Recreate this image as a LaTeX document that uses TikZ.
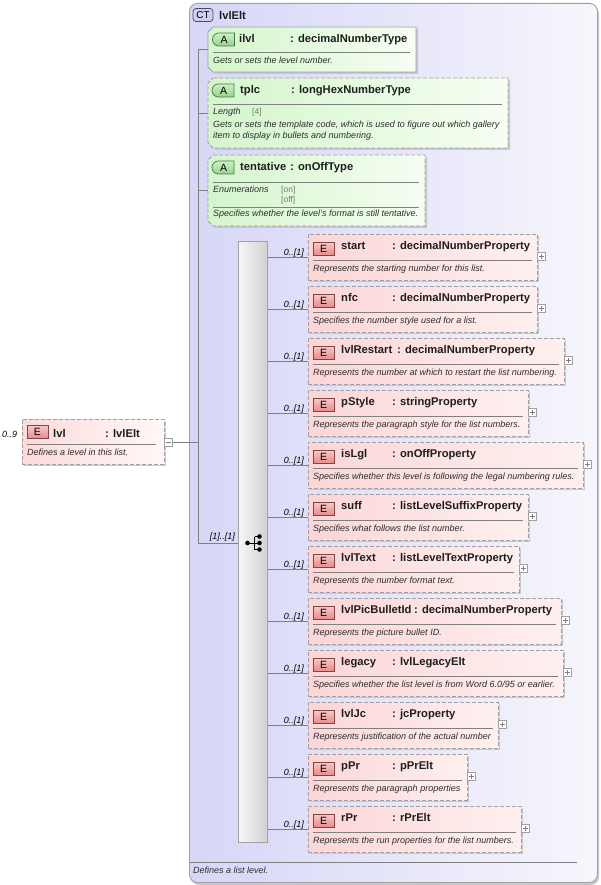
\documentclass[tikz,border=0pt]{standalone}
\usepackage{fontspec}
\setmainfont{Liberation Sans}
\usetikzlibrary{shapes.misc}
\definecolor{bordc}{RGB}{160,160,160}
\definecolor{connc}{RGB}{128,128,128}
\definecolor{shadowc}{RGB}{200,200,205}
\definecolor{ctL}{RGB}{214,214,248}
\definecolor{ctR}{RGB}{246,246,252}
\definecolor{ctbadgec}{RGB}{205,205,245}
\definecolor{elL}{RGB}{252,214,214}
\definecolor{elR}{RGB}{254,240,240}
\definecolor{lvL}{RGB}{252,218,218}
\definecolor{lvR}{RGB}{255,248,248}
\definecolor{atL}{RGB}{212,246,204}
\definecolor{atR}{RGB}{246,254,242}
\definecolor{ebT}{RGB}{250,200,200}
\definecolor{ebB}{RGB}{232,140,140}
\definecolor{ebD}{RGB}{130,70,70}
\definecolor{abT}{RGB}{205,242,195}
\definecolor{abB}{RGB}{150,210,140}
\definecolor{abD}{RGB}{80,110,80}
\definecolor{txt}{RGB}{30,30,30}
\definecolor{dtxt}{RGB}{45,45,45}
\definecolor{valc}{RGB}{120,120,120}
\definecolor{seqL}{RGB}{246,246,246}
\definecolor{seqR}{RGB}{210,210,210}

\tikzset{
 hdr/.style={anchor=base west, inner sep=0pt, font=\fontsize{11.2}{13}\selectfont\bfseries, text=txt},
 dsc/.style={anchor=base west, inner sep=0pt, font=\fontsize{9}{11}\selectfont\itshape, text=dtxt},
 mult/.style={anchor=base east, inner sep=0pt, font=\fontsize{9}{11}\selectfont\itshape, text=black},
 valtxt/.style={anchor=base west, inner sep=0pt, font=\fontsize{8.5}{10}\selectfont, text=valc},
 conn/.style={draw=connc, line width=0.8pt},
 sepline/.style={draw=connc, line width=0.7pt},
 dashbox/.style={draw=bordc, line width=0.9pt, dash pattern=on 4pt off 2pt},
 solidbox/.style={draw=bordc, line width=0.9pt},
 elembox/.style={rectangle, dashbox, left color=elL, right color=elR, minimum height=46pt, inner sep=0pt},
 lvlbox/.style={rectangle, dashbox, left color=lvL, right color=lvR, inner sep=0pt},
 ctbox/.style={rectangle, rounded corners=8pt, draw=bordc, line width=0.9pt, left color=ctL, right color=ctR, inner sep=0pt},
 ctbadge/.style={rectangle, rounded corners=3pt, draw=black!70, line width=0.7pt, fill=ctbadgec, minimum width=20pt, minimum height=13pt, inner sep=0pt, font=\fontsize{10}{11}\selectfont},
 seqbar/.style={rectangle, draw=bordc, line width=0.8pt, left color=seqL, right color=seqR, inner sep=0pt},
 ebadge/.style={rectangle, draw=ebD, line width=0.7pt, top color=ebT, bottom color=ebB, minimum width=21pt, minimum height=13pt, inner sep=0pt, font=\fontsize{10.5}{11}\selectfont, text=black},
 abadge/.style={rounded rectangle, rounded rectangle right arc=none, draw=abD, line width=0.7pt, top color=abT, bottom color=abB, minimum width=22pt, minimum height=13pt, inner sep=0pt, font=\fontsize{10.5}{11}\selectfont, text=black},
 plusbox/.style={rectangle, draw=bordc, fill=white, line width=0.6pt, minimum size=8pt, inner sep=0pt},
 plussign/.style={draw=gray, line width=0.6pt},
 seqdot/.style={fill=black, draw=none},
}

% element: #1 id, #2 top, #3 right, #4 name, #5 colon x, #6 type, #7 desc
\newcommand{\xelem}[7]{%
  \pgfmathsetmacro{\ew}{#3-308}%
  \fill[shadowc] (310,#2+2) rectangle (#3+2,#2+48);
  \node[elembox, minimum width=\ew pt, anchor=north west] (#1) at (308,#2) {};
  \node[ebadge] (#1b) at (323.5,#2+14.5) {E};
  \node[hdr] (#1n) at (341,#2+15) {#4};
  \node[hdr] (#1t) at (#5,#2+15) {: #6};
  \draw[sepline] (313,#2+26) -- (#3-5,#2+26);
  \node[dsc] (#1d) at (313,#2+37) {#7};
  \node[plusbox] (#1p) at (#3+4.5,#2+22.5) {};
  \draw[plussign] (#1p.center) +(-2.5,0) -- +(2.5,0) +(0,-2.5) -- +(0,2.5);
  \draw[conn] (seq.east |- #1.west) -- (#1.west);
  \node[mult] (#1m) at (304,#2+21) {0..[1]};
}

% attribute box: #1 x1, #2 y1, #3 x2, #4 y2, #5 border style
\newcommand{\xattr}[5]{%
  \fill[shadowc] (#1+7,#2+2) -- (#3+2,#2+2) -- (#3+2,#4+2) -- (#1+7,#4+2) -- (#1+2,#4-3) -- (#1+2,#2+7) -- cycle;
  \path[#5, left color=atL, right color=atR] (#1+5,#2) -- (#3,#2) -- (#3,#4) -- (#1+5,#4) -- (#1,#4-5) -- (#1,#2+5) -- cycle;
}

\begin{document}
\begin{tikzpicture}[x=1pt,y=-1pt]
\useasboundingbox (0,0) rectangle (600,885);
\fill[white] (0,0) rectangle (600,885);

% complex type container
\fill[shadowc, rounded corners=8pt] (191,6) rectangle (599,885);
\node[ctbox, minimum width=408pt, minimum height=879pt, anchor=north west] (ct) at (189,3) {};
\node[ctbadge] (ctb) at (203,15) {CT};
\node[hdr] (ctn) at (219,19.5) {lvlElt};
\draw[sepline] (190,862) -- (577,862);
\node[dsc] (ctd) at (193,873) {Defines a list level.};

% connector trunk
\coordinate (vtop) at (198,49.5);
\coordinate (vbot) at (198,543);
\coordinate (jx) at (198,442);
\coordinate (a1) at (208,49.5);
\coordinate (a2) at (208,113);
\coordinate (a3) at (208,190.5);
\draw[conn] (vtop) -- (vbot);
\draw[conn] (a1 -| vtop) -- (a1);
\draw[conn] (a2 -| vtop) -- (a2);
\draw[conn] (a3 -| vtop) -- (a3);

% attribute ilvl
\xattr{208}{27}{416}{72}{solidbox}
\node[abadge] (a1b) at (224,39.5) {A};
\node[hdr] (a1n) at (239,43) {ilvl};
\node[hdr] (a1t) at (290,43) {: decimalNumberType};
\draw[sepline] (213,52) -- (410,52);
\node[dsc] (a1d) at (213,64) {Gets or sets the level number.};

% attribute tplc
\xattr{208}{78}{508}{148}{dashbox}
\node[abadge] (a2b) at (223.5,90.5) {A};
\node[hdr] (a2n) at (240,94) {tplc};
\node[hdr] (a2t) at (291,94) {: longHexNumberType};
\draw[sepline] (213,104) -- (502,104);
\node[dsc] (a2l) at (213,114.5) {Length};
\node[valtxt] (a2v) at (252,114.5) {[4]};
\node[dsc] (a2d1) at (213,128) {Gets or sets the template code, which is used to figure out which gallery};
\node[dsc] (a2d2) at (213,139) {item to display in bullets and numbering.};

% attribute tentative
\xattr{208}{155}{425}{226}{dashbox}
\node[abadge] (a3b) at (223.5,167.5) {A};
\node[hdr] (a3n) at (240,171) {tentative};
\node[hdr] (a3t) at (290,171) {: onOffType};
\draw[sepline] (213,182) -- (419,182);
\node[dsc] (a3l) at (213,193) {Enumerations};
\node[valtxt] (a3v1) at (281,193) {[on]};
\node[valtxt] (a3v2) at (281,202.5) {[off]};
\draw[sepline] (213,207) -- (419,207);
\node[dsc] (a3d) at (213,217) {Specifies whether the level's format is still tentative.};

% sequence compositor
\node[seqbar, minimum width=29pt, minimum height=601pt, anchor=north west] (seq) at (238,241) {};
\draw[conn] (vbot) -- (vbot -| seq.west);
\node[mult] (seqm) at (235,539.5) {[1]..[1]};
\draw[line width=0.9pt] (247.5,543) -- (254.5,543) (254.5,536.5) -- (254.5,549.5)
  (254.5,536.5) -- (259.5,536.5) (254.5,543) -- (259.5,543) (254.5,549.5) -- (259.5,549.5);
\fill[seqdot] (247.5,543) circle (2.3pt);
\fill[seqdot] (259.5,536.5) circle (2.3pt);
\fill[seqdot] (259.5,543) circle (2.3pt);
\fill[seqdot] (259.5,549.5) circle (2.3pt);

% child elements
\xelem{e1}{234}{537}{start}{392}{decimalNumberProperty}{Represents the starting number for this list.}
\xelem{e2}{286}{537}{nfc}{392}{decimalNumberProperty}{Specifies the number style used for a list.}
\xelem{e3}{338}{564}{lvlRestart}{397}{decimalNumberProperty}{Represents the number at which to restart the list numbering.}
\xelem{e4}{390}{528}{pStyle}{392}{stringProperty}{Represents the paragraph style for the list numbers.}
\xelem{e5}{442}{583}{isLgl}{392}{onOffProperty}{Specifies whether this level is following the legal numbering rules.}
\xelem{e6}{494}{528}{suff}{392}{listLevelSuffixProperty}{Specifies what follows the list number.}
\xelem{e7}{546}{519}{lvlText}{392}{listLevelTextProperty}{Represents the number format text.}
\xelem{e8}{598}{561}{lvlPicBulletId}{414}{decimalNumberProperty}{Represents the picture bullet ID.}
\xelem{e9}{650}{563}{legacy}{392}{lvlLegacyElt}{Specifies whether the list level is from Word 6.0/95 or earlier.}
\xelem{e10}{702}{498}{lvlJc}{392}{jcProperty}{Represents justification of the actual number}
\xelem{e11}{754}{467}{pPr}{392}{pPrElt}{Represents the paragraph properties}
\xelem{e12}{806}{521}{rPr}{392}{rPrElt}{Represents the run properties for the list numbers.}

% root element lvl
\fill[shadowc] (24,421) rectangle (166,466);
\node[lvlbox, minimum width=142pt, minimum height=45pt, anchor=north west] (lvl) at (22,419) {};
\node[ebadge] (lvlb) at (37.5,432) {E};
\node[hdr] (lvln) at (53,437) {lvl};
\node[hdr] (lvlt) at (105,437) {: lvlElt};
\draw[sepline] (27,444) -- (156,444);
\node[dsc] (lvld) at (27,455.5) {Defines a level in this list.};
\node[plusbox] (lvlx) at (168.5,442) {};
\draw[plussign] (lvlx.center) +(-2.5,0) -- +(2.5,0);
\node[mult, anchor=base west] (lvlm) at (2,437) {0..9};
\draw[conn] (lvlx.east) -- (jx);
\end{tikzpicture}
\end{document}
